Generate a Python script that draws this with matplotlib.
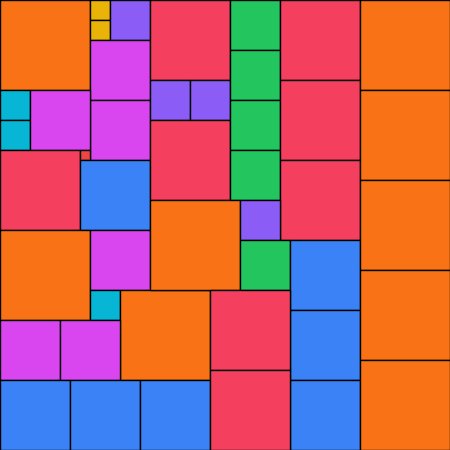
import matplotlib
matplotlib.use("Agg")
import matplotlib.pyplot as plt
from matplotlib.patches import Rectangle

# category -> colour
palette = {
    "orange": "#F97316", "yellow": "#EAB308", "purple": "#8B5CF6",
    "magenta": "#D946EF", "cyan": "#06B6D4", "rose": "#F43F5E",
    "red": "#EF4444", "blue": "#3B82F6", "green": "#22C55E",
}

# cells: category, left, top, side (grid units)
cats = ["orange", "yellow", "yellow", "purple", "magenta", "magenta", "cyan", "cyan",
        "magenta", "rose", "red", "blue", "orange", "magenta", "cyan", "orange",
        "magenta", "magenta", "blue", "blue", "blue",
        "rose", "purple", "purple", "rose", "green", "green", "green", "green",
        "rose", "rose", "rose", "orange", "purple", "green",
        "blue", "blue", "blue", "rose", "rose",
        "orange", "orange", "orange", "orange", "orange"]
xs = [0, 9, 9, 11, 9, 9, 0, 0, 3, 0, 8, 8, 0, 9, 9, 12, 0, 6, 0, 7, 14,
      15, 15, 19, 15, 23, 23, 23, 23, 28, 28, 28, 15, 24, 24,
      29, 29, 29, 21, 21, 36, 36, 36, 36, 36]
ys = [0, 0, 2, 0, 4, 10, 9, 12, 9, 15, 15, 16, 23, 23, 29, 29, 32, 32, 38, 38, 38,
      0, 8, 8, 12, 0, 5, 10, 15, 0, 8, 16, 20, 20, 24,
      24, 31, 38, 29, 37, 0, 9, 18, 27, 36]
sides = [9, 2, 2, 4, 6, 6, 3, 3, 6, 8, 1, 7, 9, 6, 3, 9, 6, 6, 7, 7, 7,
         8, 4, 4, 8, 5, 5, 5, 5, 8, 8, 8, 9, 4, 5,
         7, 7, 7, 8, 8, 9, 9, 9, 9, 9]

fig = plt.figure(figsize=(4.5, 4.5), dpi=100)
ax = fig.add_axes([0, 0, 1, 1])
ax.set_xlim(0, 45)
ax.set_ylim(45, 0)
ax.axis("off")
for c, x, y, s in zip(cats, xs, ys, sides):
    ax.add_patch(Rectangle((x, y), s, s, facecolor=palette[c],
                           edgecolor="black", linewidth=1.0))
fig.savefig("out.png", dpi=100)
